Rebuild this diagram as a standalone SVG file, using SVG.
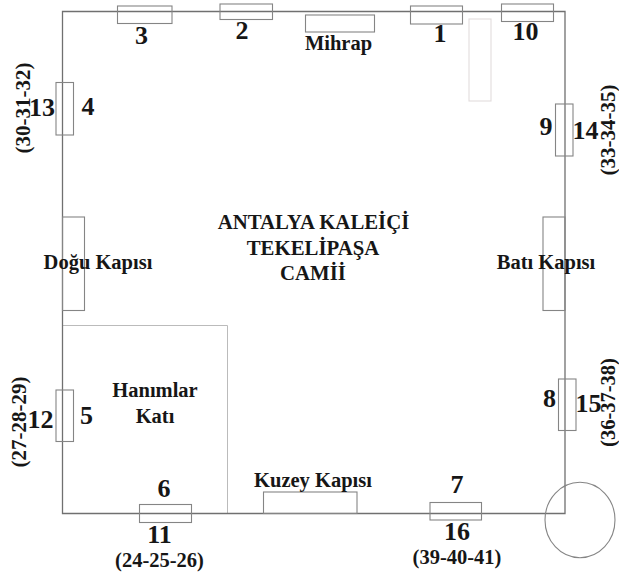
<svg xmlns="http://www.w3.org/2000/svg" width="619" height="574" viewBox="0 0 619 574">
<style>
text{font-family:"Liberation Serif","Times New Roman",serif;font-weight:bold;fill:#161616;text-anchor:middle}
.n{font-size:26px}
.l{font-size:20.5px}
.s{font-size:21px}
.b{font-size:20.5px}
.c{font-size:20.8px}
rect,ellipse{fill:none;stroke:#858585;stroke-width:1.1}
.w{fill:none;stroke:#707070;stroke-width:1.3}
.h{fill:none;stroke:#bbb;stroke-width:1}
</style>
<rect width="619" height="574" style="fill:#fff;stroke:none"/>
<g id="hanimlar"><path class="h" d="M62.5 325.5H227.5V513.5"/><text class="l" x="155" y="397">Hanımlar</text><text class="l" x="155" y="423">Katı</text></g>
<g id="walls"><path class="w" d="M62.5 11.5H565V513.5H62.5Z"/></g>
<g id="connectors"></g>
<g id="pale"><rect x="469" y="19" width="22" height="82" style="stroke:#e2dcdc"/></g>
<g id="w3"><rect x="117.5" y="6" width="54.5" height="17.5"/><text class="n" x="141.5" y="44">3</text></g>
<g id="w2"><rect x="220" y="4" width="52.5" height="15.5"/><text class="n" x="242" y="39">2</text></g>
<g id="mihrap"><rect x="305.5" y="15" width="69" height="17"/><text class="l" x="338.5" y="50">Mihrap</text></g>
<g id="w1"><rect x="410.5" y="6" width="52" height="18"/><text class="n" x="440" y="42">1</text></g>
<g id="w10"><rect x="501.5" y="4" width="52" height="17.5"/><text class="n" x="525.5" y="40">10</text></g>
<g id="w4"><rect x="56" y="82.5" width="17.5" height="52.5"/><text class="n" x="88" y="115">4</text><text class="n" x="42" y="116">13</text><text class="s" transform="translate(30 108) rotate(-90)">(30-31-32)</text></g>
<g id="w9"><rect x="555.5" y="104" width="17.5" height="52"/><text class="n" x="546" y="135">9</text><text class="n" x="585.5" y="139">14</text><text class="s" transform="translate(615 130) rotate(-90)">(33-34-35)</text></g>
<g id="dogu"><rect x="62.5" y="217" width="22" height="93.5"/><text class="l" x="98" y="269">Doğu Kapısı</text></g>
<g id="bati"><rect x="543" y="217" width="22" height="93.5"/><text class="l" x="546" y="269">Batı Kapısı</text></g>
<g id="title"><text class="c" x="313.5" y="229">ANTALYA KALEİÇİ</text><text class="c" x="313" y="255">TEKELİPAŞA</text><text class="c" x="313" y="280">CAMİİ</text></g>
<g id="w5"><rect x="56" y="390" width="17.5" height="51.5"/><text class="n" x="86.5" y="424">5</text><text class="n" x="40.5" y="428">12</text><text class="s" transform="translate(26 422) rotate(-90)">(27-28-29)</text></g>
<g id="w8"><rect x="558.5" y="379" width="17.5" height="51.5"/><text class="n" x="549.5" y="406.5">8</text><text class="n" x="588.5" y="412">15</text><text class="b" transform="translate(614.5 402.5) rotate(-90)">(36-37-38)</text></g>
<g id="w6"><rect x="139.5" y="504.5" width="52" height="18"/><text class="n" x="164" y="497">6</text><text class="n" x="159.5" y="543">11</text><text class="b" x="159.5" y="567">(24-25-26)</text></g>
<g id="kuzey"><rect x="263.5" y="492" width="93.5" height="21.5"/><text class="l" x="313" y="487">Kuzey Kapısı</text></g>
<g id="w7"><rect x="430" y="502.5" width="51.5" height="17.5"/><text class="n" x="457" y="493">7</text><text class="n" x="457" y="539.5">16</text><text class="b" x="457" y="563.5">(39-40-41)</text></g>
<g id="circle"><ellipse cx="580" cy="520" rx="35" ry="37.7"/></g>
</svg>
